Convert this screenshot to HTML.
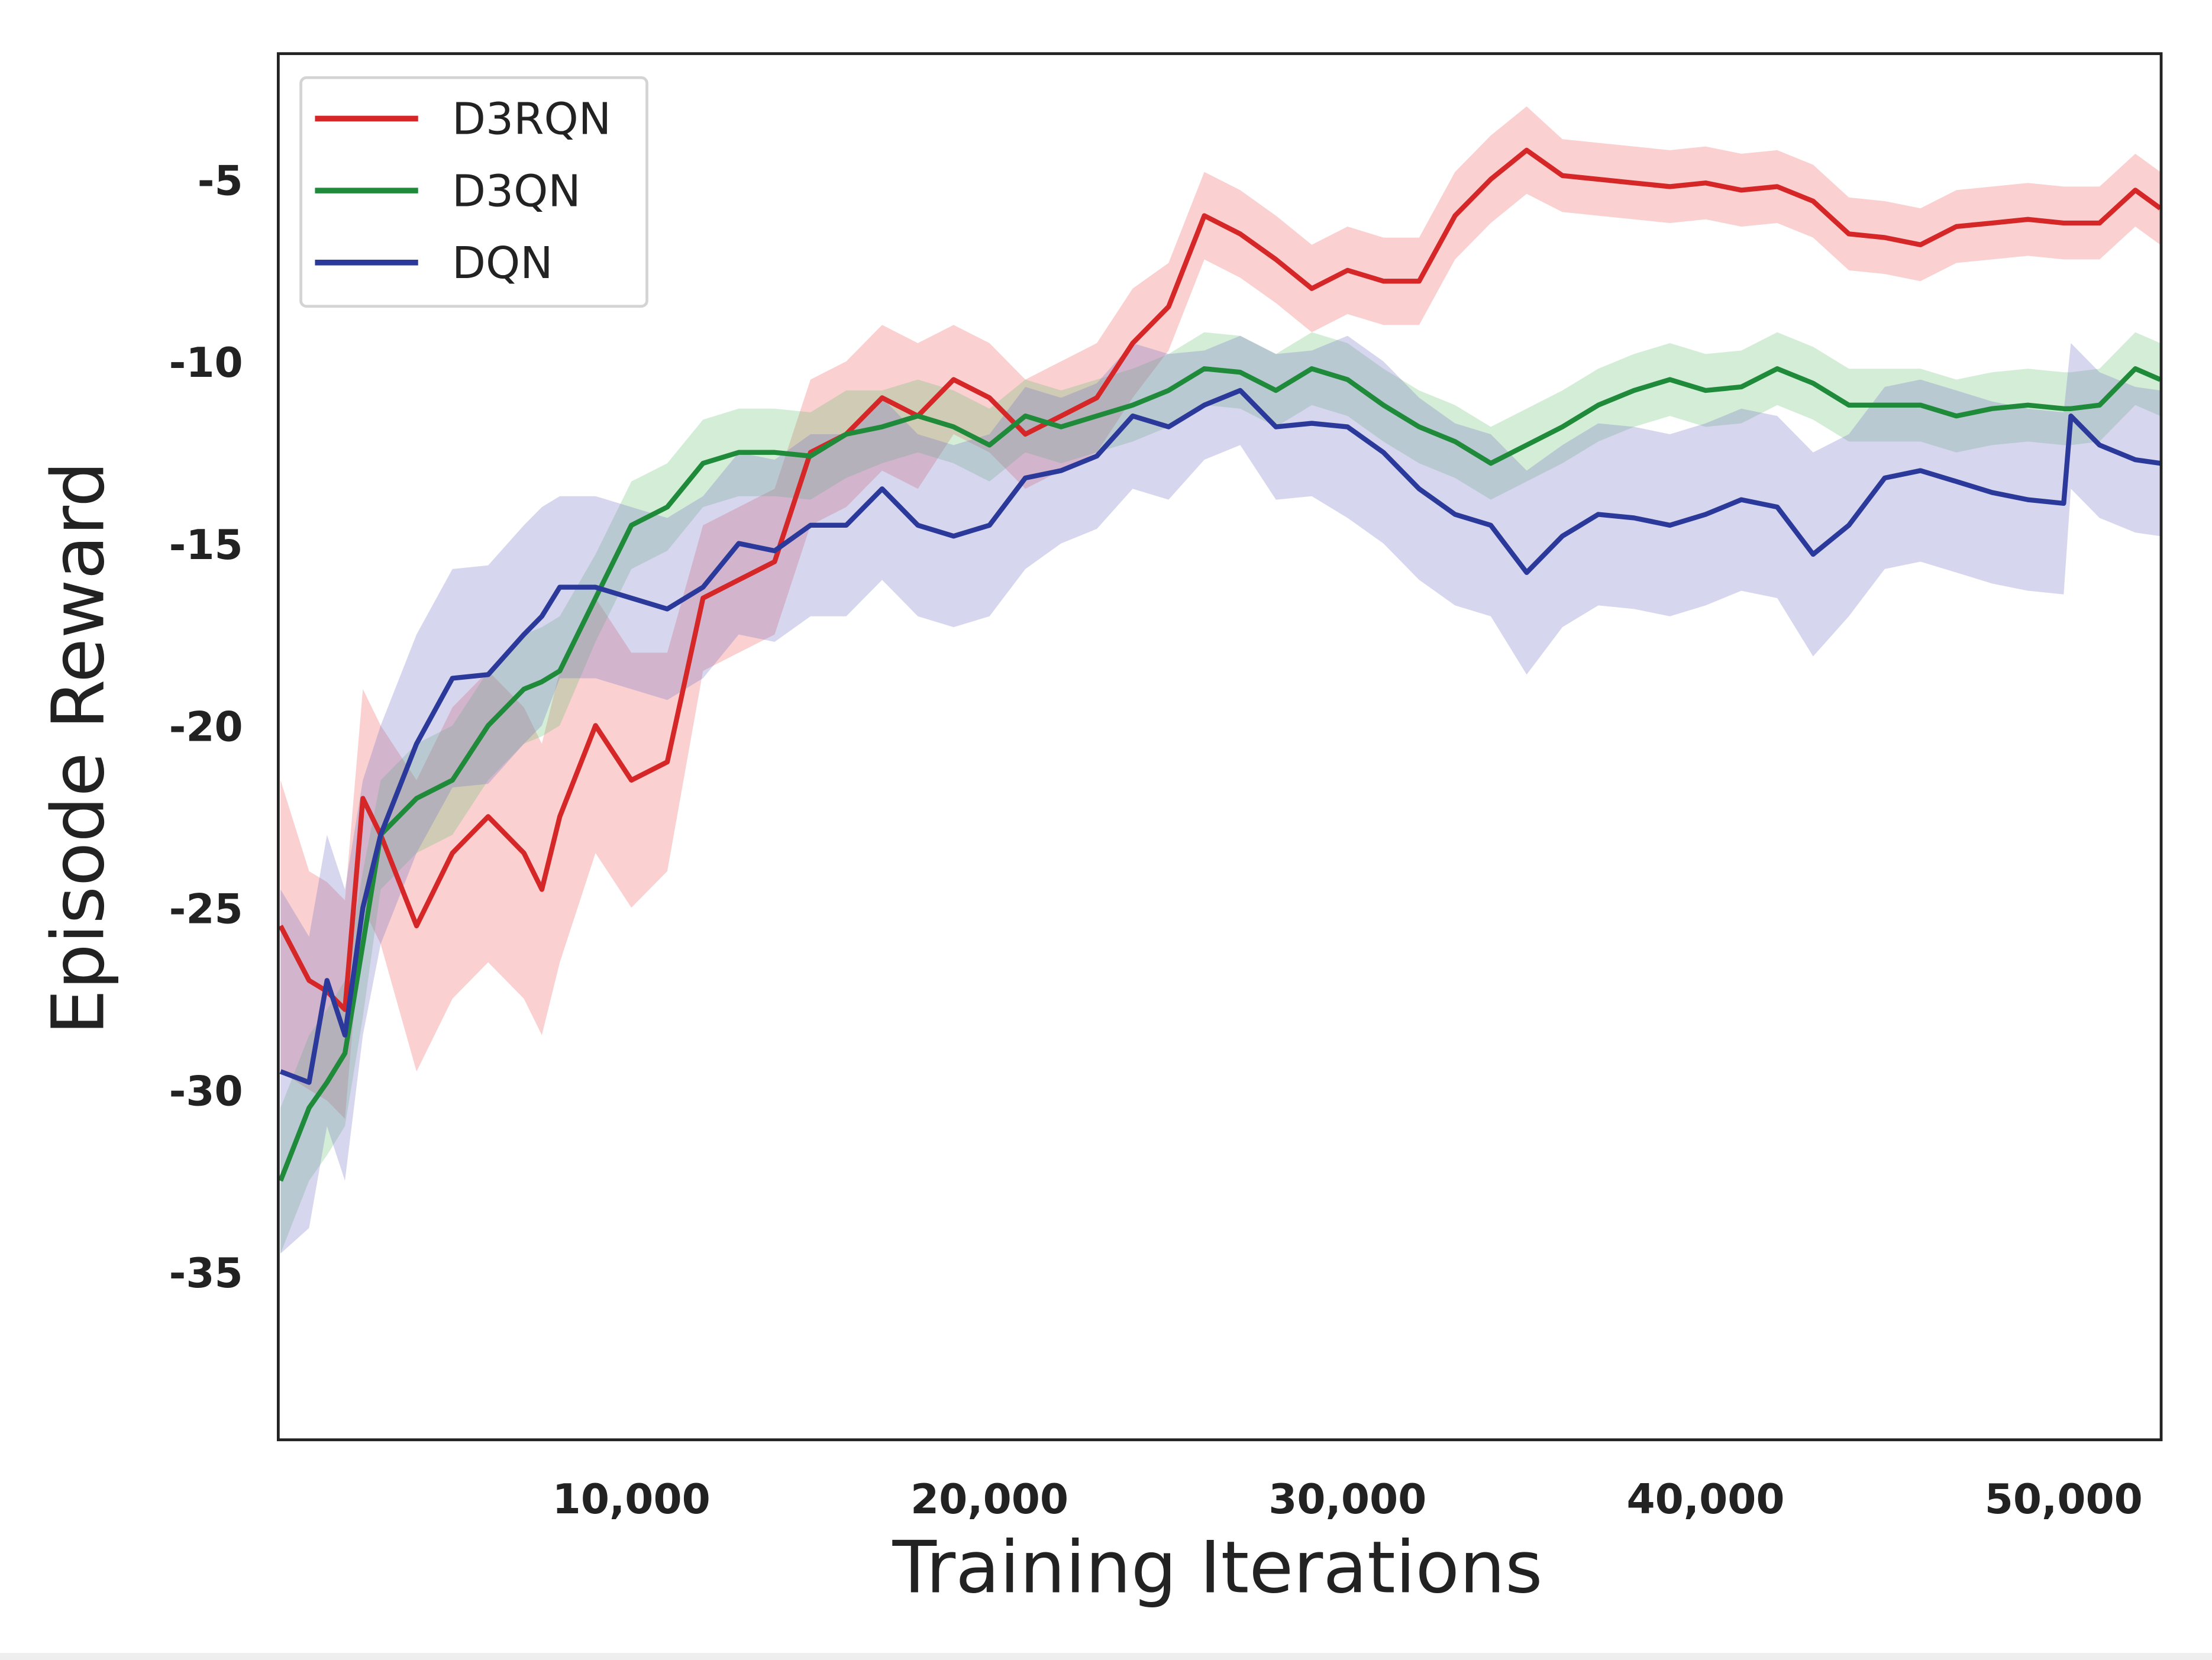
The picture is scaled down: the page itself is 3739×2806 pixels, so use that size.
<!DOCTYPE html>
<html><head><meta charset="utf-8"><style>
html,body{margin:0;padding:0;background:#fff;}
svg{display:block;}
text{font-family:"DejaVu Sans","Liberation Sans",sans-serif;}
</style></head><body>
<svg id="chart" width="3739" height="2806" viewBox="0 0 1566 1176" preserveAspectRatio="none" xmlns="http://www.w3.org/2000/svg">
<rect x="0" y="0" width="1566" height="1176" fill="#fff"/>
<rect x="0" y="1171" width="1566" height="5" fill="#eeeeee"/>
<g id="bands"></g>
<g id="lines"></g>
<rect x="197" y="38" width="1333" height="982" fill="none" stroke="#222" stroke-width="2"/>
<g id="yticks"></g>
<g id="xticks"></g>
<text x="862" y="1128" font-size="51" text-anchor="middle" fill="#222">Training Iterations</text>
<text transform="translate(73,530) rotate(-90)" font-size="51" text-anchor="middle" fill="#222">Episode Reward</text>
<g>
<rect x="213" y="55" width="245" height="162" rx="4" fill="#fff" stroke="#d4d4d4" stroke-width="2"/>
<line x1="223" y1="84" x2="296" y2="84" stroke="#d62728" stroke-width="4"/>
<text x="320" y="95" font-size="31" fill="#222">D3RQN</text>
<line x1="223" y1="135" x2="296" y2="135" stroke="#1f8a3a" stroke-width="4"/>
<text x="320" y="146" font-size="31" fill="#222">D3QN</text>
<line x1="223" y1="186" x2="296" y2="186" stroke="#2b3a9a" stroke-width="4"/>
<text x="320" y="197" font-size="31" fill="#222">DQN</text>
</g>
</svg>
<script>
const xs = [0.2,1,1.5,2,2.5,3,4,5,6,7,7.5,8,9,10,11,12,13,14,15,16,17,18,19,20,21,22,23,24,25,26,27,28,29,30,31,32,33,34,35,36,37,38,39,40,41,42,43,44,45,46,47,48,49,50,50.2,51,52,52.7];
const d3rqn = [-25.5,-27,-27.3,-27.8,-22,-23,-25.5,-23.5,-22.5,-23.5,-24.5,-22.5,-20,-21.5,-21,-16.5,-16,-15.5,-12.5,-12,-11,-11.5,-10.5,-11,-12,-11.5,-11,-9.5,-8.5,-6,-6.5,-7.2,-8,-7.5,-7.8,-7.8,-6,-5,-4.2,-4.9,-5,-5.1,-5.2,-5.1,-5.3,-5.2,-5.6,-6.5,-6.6,-6.8,-6.3,-6.2,-6.1,-6.2,-6.2,-6.2,-5.3,-5.8];
const d3rqnSpread = [4,3,3,3,3,3,4,4,4,4,4,4,3.5,3.5,3,2,2,2,2,2,2,2,1.5,1.5,1.5,1.5,1.5,1.5,1.2,1.2,1.2,1.2,1.2,1.2,1.2,1.2,1.2,1.2,1.2,1,1,1,1,1,1,1,1,1,1,1,1,1,1,1,1,1,1,1];
const d3qn = [-32.5,-30.5,-29.8,-29,-26,-23,-22,-21.5,-20,-19,-18.8,-18.5,-16.5,-14.5,-14,-12.8,-12.5,-12.5,-12.6,-12,-11.8,-11.5,-11.8,-12.3,-11.5,-11.8,-11.5,-11.2,-10.8,-10.2,-10.3,-10.8,-10.2,-10.5,-11.2,-11.8,-12.2,-12.8,-12.3,-11.8,-11.2,-10.8,-10.5,-10.8,-10.7,-10.2,-10.6,-11.2,-11.2,-11.2,-11.5,-11.3,-11.2,-11.3,-11.3,-11.2,-10.2,-10.5];
const d3qnSpread = [2,2,2,2,2,1.5,1.5,1.5,1.5,1.5,1.5,1.5,1.2,1.2,1.2,1.2,1.2,1.2,1.2,1.2,1,1,1,1,1,1,1,1,1,1,1,1,1,1,1,1,1,1,1,1,1,1,1,1,1,1,1,1,1,1,1,1,1,1,1,1,1,1];
const dqn = [-29.5,-29.8,-27,-28.5,-25,-23,-20.5,-18.7,-18.6,-17.5,-17,-16.2,-16.2,-16.5,-16.8,-16.2,-15,-15.2,-14.5,-14.5,-13.5,-14.5,-14.8,-14.5,-13.2,-13,-12.6,-11.5,-11.8,-11.2,-10.8,-11.8,-11.7,-11.8,-12.5,-13.5,-14.2,-14.5,-15.8,-14.8,-14.2,-14.3,-14.5,-14.2,-13.8,-14,-15.3,-14.5,-13.2,-13,-13.3,-13.6,-13.8,-13.9,-11.5,-12.3,-12.7,-12.8];
const dqnSpread = [5,4,4,4,3.5,3,3,3,3,3,3,2.5,2.5,2.5,2.5,2.5,2.5,2.5,2.5,2.5,2.5,2.5,2.5,2.5,2.5,2,2,2,2,1.5,1.5,2,2,2.5,2.5,2.5,2.5,2.5,2.8,2.5,2.5,2.5,2.5,2.5,2.5,2.5,2.8,2.5,2.5,2.5,2.5,2.5,2.5,2.5,2,2,2,2];
const yTicks = [-5,-10,-15,-20,-25,-30,-35];
const xTicks = [10,20,30,40,50];
const xTickLabels = ["10,000","20,000","30,000","40,000","50,000"];

const NS = "http://www.w3.org/2000/svg";
function sx(k){ return 447 + (k-10)*25.35; }
function sy(v){ return 127 - (v+5)*25.8; }

const series = [
  {name:"d3rqn", vals:d3rqn, spread:d3rqnSpread, color:"#d62728", fill:"rgba(240,110,110,0.32)"},
  {name:"d3qn", vals:d3qn, spread:d3qnSpread, color:"#1f8a3a", fill:"rgba(100,190,110,0.28)"},
  {name:"dqn", vals:dqn, spread:dqnSpread, color:"#2b3a9a", fill:"rgba(120,120,200,0.30)"}
];
const bands = document.getElementById('bands');
const lines = document.getElementById('lines');
series.forEach(s => {
  let up = [], lo = [], ln = [];
  for (let i=0;i<xs.length;i++){
    up.push(sx(xs[i]).toFixed(1)+","+sy(s.vals[i]+s.spread[i]).toFixed(1));
    lo.unshift(sx(xs[i]).toFixed(1)+","+sy(s.vals[i]-s.spread[i]).toFixed(1));
    ln.push(sx(xs[i]).toFixed(1)+","+sy(s.vals[i]).toFixed(1));
  }
  const b = document.createElementNS(NS,'polygon');
  b.setAttribute('points', up.concat(lo).join(' '));
  b.setAttribute('fill', s.fill);
  
  
  bands.appendChild(b);
  const l = document.createElementNS(NS,'polyline');
  l.setAttribute('points', ln.join(' '));
  l.setAttribute('fill','none');
  l.setAttribute('stroke', s.color);
  l.setAttribute('stroke-width','3.5');
  l.setAttribute('stroke-linejoin','round');
  
  
  lines.appendChild(l);
});
const yg = document.getElementById('yticks');
yTicks.forEach(v => {
  const t = document.createElementNS(NS,'text');
  t.setAttribute('x','172'); t.setAttribute('y',(sy(v)+11).toFixed(1));
  t.setAttribute('text-anchor','end'); t.setAttribute('font-size','29');
  t.setAttribute('font-weight','bold'); t.setAttribute('fill','#222');
  t.textContent = v;
  
  
  yg.appendChild(t);
});
const xg = document.getElementById('xticks');
xTicks.forEach((v,i) => {
  const t = document.createElementNS(NS,'text');
  t.setAttribute('x',sx(v).toFixed(1)); t.setAttribute('y','1072');
  t.setAttribute('text-anchor','middle'); t.setAttribute('font-size','29');
  t.setAttribute('font-weight','bold'); t.setAttribute('fill','#222');
  t.textContent = xTickLabels[i];
  
  
  xg.appendChild(t);
});
</script>
</body></html>
